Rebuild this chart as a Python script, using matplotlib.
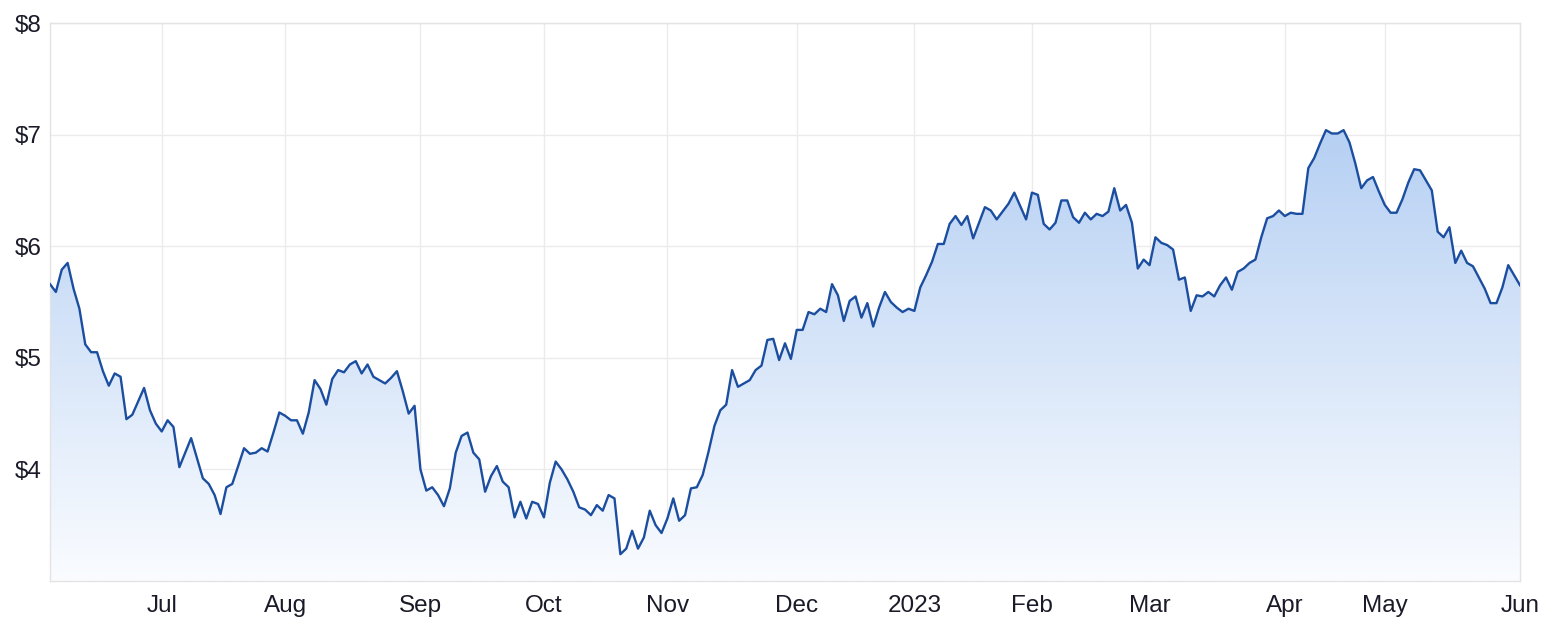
import numpy as np
import pandas as pd
import matplotlib
matplotlib.use("Agg")
import matplotlib.pyplot as plt
from matplotlib.ticker import FixedLocator, FuncFormatter

# daily closing prices (ASX trading days, 3 Jun 2022 - 1 Jun 2023)
prices = [
    5.66, 5.59, 5.79, 5.85, 5.62, 5.44, 5.12, 5.05, 5.05, 4.88,
    4.75, 4.86, 4.83, 4.45, 4.49, 4.61, 4.73, 4.53, 4.41, 4.34,
    4.44, 4.38, 4.02, 4.15, 4.28, 4.10, 3.92, 3.87, 3.77, 3.60,
    3.84, 3.87, 4.03, 4.19, 4.14, 4.15, 4.19, 4.16, 4.33, 4.51,
    4.48, 4.44, 4.44, 4.32, 4.51, 4.80, 4.72, 4.58, 4.81, 4.89,
    4.87, 4.94, 4.97, 4.86, 4.94, 4.83, 4.80, 4.77, 4.82, 4.88,
    4.70, 4.50, 4.57, 4.00, 3.81, 3.84, 3.77, 3.67, 3.83, 4.15,
    4.30, 4.33, 4.15, 4.09, 3.80, 3.94, 4.03, 3.89, 3.84, 3.57,
    3.71, 3.56, 3.71, 3.69, 3.57, 3.88, 4.07, 4.00, 3.91, 3.80,
    3.66, 3.64, 3.59, 3.68, 3.63, 3.77, 3.74, 3.24, 3.29, 3.45,
    3.29, 3.39, 3.63, 3.50, 3.43, 3.56, 3.74, 3.54, 3.59, 3.83,
    3.84, 3.95, 4.16, 4.39, 4.53, 4.58, 4.89, 4.74, 4.77, 4.80,
    4.89, 4.93, 5.16, 5.17, 4.98, 5.13, 4.99, 5.25, 5.25, 5.41,
    5.39, 5.44, 5.41, 5.66, 5.56, 5.33, 5.51, 5.55, 5.36, 5.49,
    5.28, 5.45, 5.59, 5.50, 5.45, 5.41, 5.44, 5.42, 5.63, 5.74,
    5.86, 6.02, 6.02, 6.20, 6.27, 6.19, 6.27, 6.07, 6.21, 6.35,
    6.32, 6.24, 6.31, 6.38, 6.48, 6.36, 6.24, 6.48, 6.46, 6.20,
    6.15, 6.21, 6.41, 6.41, 6.26, 6.21, 6.30, 6.24, 6.29, 6.27,
    6.31, 6.52, 6.32, 6.37, 6.21, 5.80, 5.88, 5.83, 6.08, 6.03,
    6.01, 5.97, 5.70, 5.72, 5.42, 5.56, 5.55, 5.59, 5.55, 5.65,
    5.72, 5.61, 5.77, 5.80, 5.85, 5.88, 6.08, 6.25, 6.27, 6.32,
    6.27, 6.30, 6.29, 6.29, 6.70, 6.79, 6.92, 7.04, 7.01, 7.01,
    7.04, 6.93, 6.74, 6.52, 6.59, 6.62, 6.49, 6.37, 6.30, 6.30,
    6.42, 6.57, 6.69, 6.68, 6.59, 6.50, 6.13, 6.08, 6.17, 5.85,
    5.96, 5.85, 5.82, 5.72, 5.62, 5.49, 5.49, 5.63, 5.83, 5.74,
    5.65,
]
start_date = "2022-06-03"
asx_holidays = ["2022-06-13", "2022-09-22", "2022-12-26", "2022-12-27",
                "2023-01-02", "2023-01-26", "2023-04-07", "2023-04-10",
                "2023-04-25"]
y_ticks = [4, 5, 6, 7, 8]

dates = pd.bdate_range(start_date, periods=len(prices), freq="C",
                       holidays=asx_holidays)
x = np.arange(len(prices))
y = np.array(prices)

# ticks on the first trading day of each month
tick_pos = []
tick_lab = []
for i in range(1, len(dates)):
    if dates[i].month != dates[i - 1].month:
        tick_pos.append(i)
        tick_lab.append(str(dates[i].year) if dates[i].month == 1
                        else dates[i].strftime("%b"))

plt.rcParams["font.family"] = ["Liberation Sans", "DejaVu Sans"]

fig = plt.figure(figsize=(15.61, 6.25), dpi=100)
ax = fig.add_axes([50 / 1561, 44 / 625, 1470 / 1561, 558 / 625])

ymin, ymax = 3, 8
ax.set_xlim(0, len(prices) - 1)
ax.set_ylim(ymin, ymax)

# gradient fill under the line
top_c = np.array([182, 208, 243]) / 255
bot_c = np.array([250, 252, 255]) / 255
t = np.linspace(0, 1, 256)[:, None]
grad = top_c * (1 - t) + bot_c * t
grad = grad[:, None, :]
img = ax.imshow(grad, extent=[0, len(prices) - 1, ymin, y.max()],
                aspect="auto", origin="upper", zorder=1)
poly = ax.fill_between(x, y, ymin, color="none", lw=0)
clip = poly.get_paths()[0]
img.set_clip_path(clip, transform=ax.transData)

ax.plot(x, y, color="#1c4ea0", lw=1.7, zorder=3)

ax.yaxis.set_major_locator(FixedLocator(y_ticks))
ax.yaxis.set_major_formatter(FuncFormatter(lambda v, p: "$%d" % v))
ax.xaxis.set_major_locator(FixedLocator(tick_pos))
ax.set_xticklabels(tick_lab)

ax.grid(True, color="#ebebeb", lw=1, zorder=0)
ax.set_axisbelow(True)
for s in ax.spines.values():
    s.set_color("#e3e3e3")
    s.set_linewidth(1)
ax.tick_params(length=0, labelsize=17.5, colors="#1a1a28")
ax.tick_params(axis="y", pad=6)
ax.tick_params(axis="x", pad=10)

fig.savefig("out.png", dpi=100)
